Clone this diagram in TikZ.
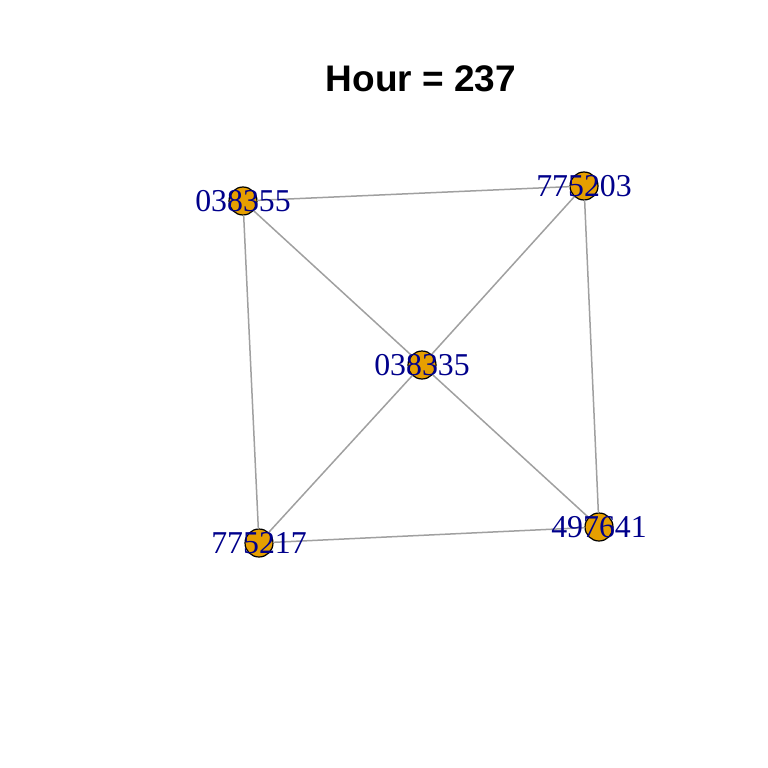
\documentclass[tikz,border=0pt]{standalone}
\usepackage{fontspec}
\setmainfont{Liberation Serif}
\newfontfamily\titlefont{Liberation Sans}
\definecolor{vorange}{HTML}{E69F00}
\definecolor{vlabel}{HTML}{00008B}
\definecolor{edgegray}{HTML}{A0A0A0}
\begin{document}
\begin{tikzpicture}[x=1pt, y=-1pt, line join=round, line cap=round,
	vert/.style={circle, draw=black, fill=vorange, line width=1.2pt, minimum size=28pt, inner sep=0pt},
	vlab/.style={text=vlabel, inner sep=0pt, font=\fontsize{31.8}{36}\selectfont},
	link/.style={draw=edgegray, line width=1.5pt}]
	\useasboundingbox (0,0) rectangle (768,768);
	\node[font=\titlefont\bfseries\fontsize{37}{40}\selectfont, anchor=base] (title) at (421,91) {Hour = 237};
	
	\node[vert] (a) at (243,201) {};
	\node[vert] (b) at (584,186) {};
	\node[vert] (c) at (422,365) {};
	\node[vert] (d) at (259,543) {};
	\node[vert] (e) at (599,527) {};
	
	\draw[link] (a) -- (b);
	\draw[link] (a) -- (c);
	\draw[link] (a) -- (d);
	\draw[link] (b) -- (c);
	\draw[link] (b) -- (e);
	\draw[link] (c) -- (d);
	\draw[link] (c) -- (e);
	\draw[link] (d) -- (e);
	
	\node[vlab] (la) at (a) {038355};
	\node[vlab] (lb) at (b) {775203};
	\node[vlab] (lc) at (c) {038335};
	\node[vlab] (ld) at (d) {775217};
	\node[vlab] (le) at (e) {497641};
\end{tikzpicture}
\end{document}
